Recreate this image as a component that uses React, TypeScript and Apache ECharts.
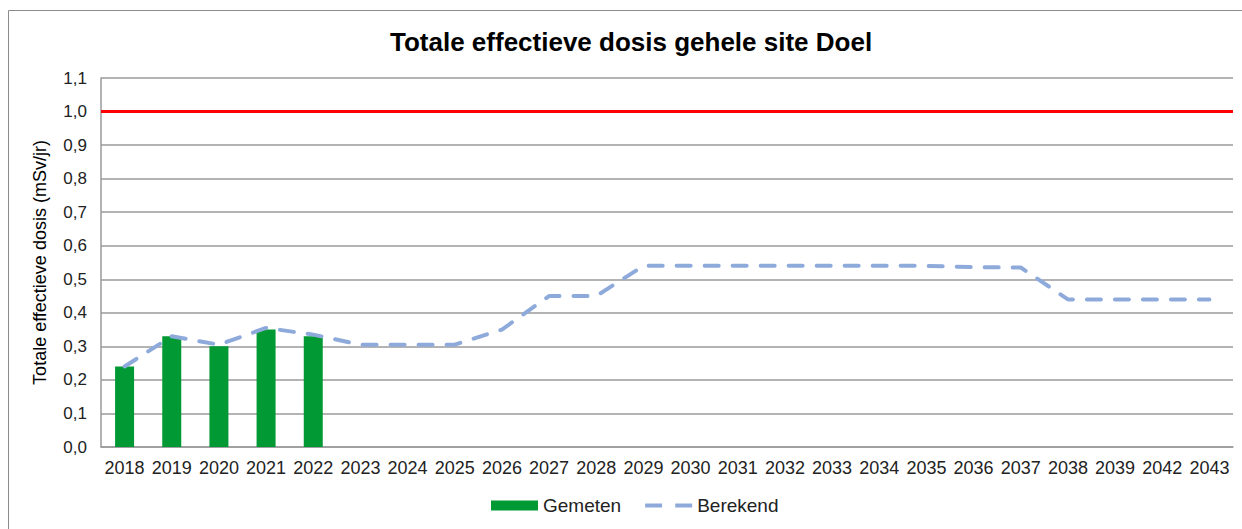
import React, { useEffect, useRef } from "react";
import * as echarts from "echarts";

const categories = ["2018","2019","2020","2021","2022","2023","2024","2025","2026","2027","2028","2029","2030","2031","2032","2033","2034","2035","2036","2037","2038","2039","2042","2043"];
const gemeten = [0.24, 0.33, 0.30, 0.35, 0.33, null, null, null, null, null, null, null, null, null, null, null, null, null, null, null, null, null, null, null];
const berekend = [0.24, 0.33, 0.305, 0.355, 0.335, 0.305, 0.305, 0.305, 0.35, 0.45, 0.45, 0.54, 0.54, 0.54, 0.54, 0.54, 0.54, 0.54, 0.536, 0.535, 0.44, 0.44, 0.44, 0.44];
const limitValue = 1.0;

const FONT = "'Liberation Sans', Arial, sans-serif";

export default function App() {
  const ref = useRef<HTMLDivElement>(null);
  useEffect(() => {
    document.body.style.margin = "0";
    const chart = echarts.init(ref.current!, null, { renderer: "svg" });
    chart.setOption({
      animation: false,
      backgroundColor: "#ffffff",
      textStyle: { fontFamily: FONT },
      title: {
        text: "Totale effectieve dosis gehele site Doel",
        left: 385,
        top: 24,
        textStyle: { fontFamily: FONT, fontSize: 26, fontWeight: "bold", color: "#000" },
      },
      graphic: [
        {
          type: "rect",
          shape: { x: 8.5, y: 10.5, width: 1240, height: 530 },
          style: { fill: "none", stroke: "#8c8c8c", lineWidth: 1 },
          silent: true,
        },
      ],
      legend: {
        bottom: 9,
        left: 486,
        itemWidth: 47,
        itemHeight: 10,
        itemGap: 24,
        textStyle: { fontFamily: FONT, fontSize: 19, color: "#222" },
        data: [
          { name: "Gemeten", icon: "rect" },
          { name: "Berekend", icon: "path://M0,0H18V4H0Z M32,0H50V4H32Z" },
        ],
      },
      grid: { left: 101, right: 9, top: 78, bottom: 82 },
      xAxis: {
        type: "category",
        data: categories,
        axisLine: { lineStyle: { color: "#9a9a9a", width: 1.5 } },
        axisTick: { inside: true, length: 5, lineStyle: { color: "#9a9a9a" } },
        axisLabel: { fontFamily: FONT, fontSize: 18, color: "#222", margin: 12, interval: 0 },
      },
      yAxis: {
        type: "value",
        min: 0,
        max: 1.1,
        interval: 0.1,
        name: "Totale effectieve dosis (mSv/jr)",
        nameLocation: "middle",
        nameGap: 52,
        nameTextStyle: { fontFamily: FONT, fontSize: 18, color: "#000" },
        axisLine: { show: true, lineStyle: { color: "#9a9a9a", width: 1.5 } },
        axisTick: { show: false },
        splitLine: { lineStyle: { color: "#9a9a9a", width: 1.5 } },
        axisLabel: {
          fontFamily: FONT,
          fontSize: 17,
          color: "#222",
          margin: 14,
          formatter: (v: number) => v.toFixed(1).replace(".", ","),
        },
      },
      series: [
        {
          name: "Gemeten",
          type: "bar",
          data: gemeten,
          barWidth: 19,
          itemStyle: { color: "#009933" },
          z: 2,
          markLine: {
            silent: true,
            symbol: "none",
            label: { show: false },
            lineStyle: { color: "#ff0000", width: 3, type: "solid" },
            data: [{ yAxis: limitValue }],
          },
        },
        {
          name: "Berekend",
          type: "line",
          data: berekend,
          symbol: "none",
          itemStyle: { color: "#8eaadb" },
          lineStyle: { color: "#8eaadb", width: 4, type: [14, 14], cap: "round" },
          z: 3,
        },
      ],
    });
    return () => chart.dispose();
  }, []);
  return <div ref={ref} style={{ width: 1242, height: 529 }} />;
}
